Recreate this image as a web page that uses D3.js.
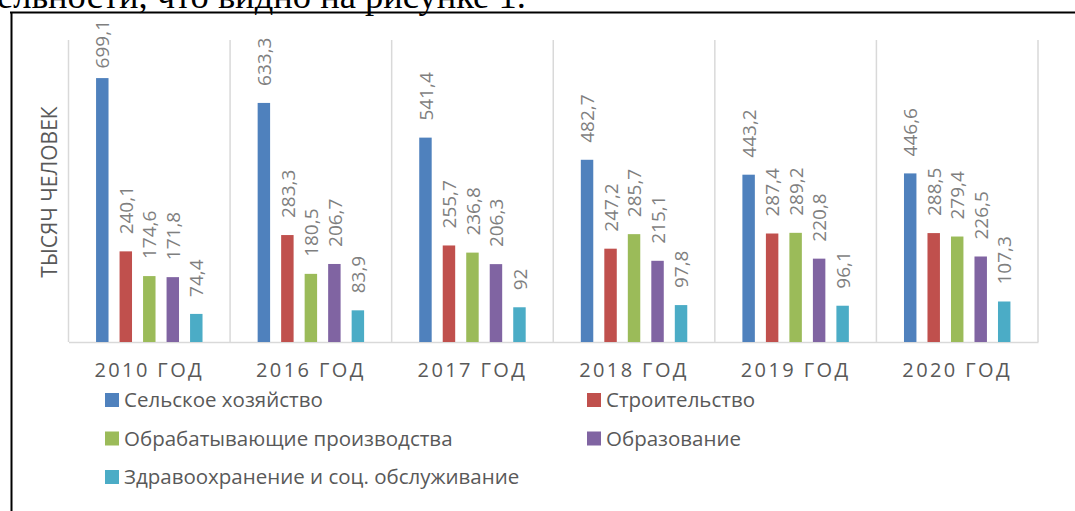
<!DOCTYPE html>
<html>
<head>
<meta charset="utf-8">
<script src="https://cdn.jsdelivr.net/npm/d3@7"></script>
<style>
  html, body { margin: 0; padding: 0; background: #fff; }
  svg { display: block; }
</style>
</head>
<body>
<svg id="chart" width="1075" height="511"></svg>
<script>
const categories = ["2010 ГОД", "2016 ГОД", "2017 ГОД", "2018 ГОД", "2019 ГОД", "2020 ГОД"];
const seriesNames = ["Сельское хозяйство", "Строительство", "Обрабатывающие производства", "Образование", "Здравоохранение и соц. обслуживание"];
const seriesColors = ["#4f81bd", "#c0504d", "#9bbb59", "#8064a2", "#4bacc6"];
const agriculture   = [699.1, 633.3, 541.4, 482.7, 443.2, 446.6];
const construction  = [240.1, 283.3, 255.7, 247.2, 287.4, 288.5];
const manufacturing = [174.6, 180.5, 236.8, 285.7, 289.2, 279.4];
const education     = [171.8, 206.7, 206.3, 215.1, 220.8, 226.5];
const health        = [74.4, 83.9, 92, 97.8, 96.1, 107.3];
const valueLabels = [
  ["699,1", "633,3", "541,4", "482,7", "443,2", "446,6"],
  ["240,1", "283,3", "255,7", "247,2", "287,4", "288,5"],
  ["174,6", "180,5", "236,8", "285,7", "289,2", "279,4"],
  ["171,8", "206,7", "206,3", "215,1", "220,8", "226,5"],
  ["74,4", "83,9", "92", "97,8", "96,1", "107,3"]
];
const axisTitle = "ТЫСЯЧ ЧЕЛОВЕК";
const yMax = 800;
const topText = "ельности, что видно на рисунке 1.";

const seriesValues = [agriculture, construction, manufacturing, education, health];
const svg = d3.select("#chart");
const SANS = "'Open Sans', 'Noto Sans', sans-serif";

// text above the frame (clipped page text)
svg.append("text")
  .attr("x", -3).attr("y", 7.5)
  .attr("font-family", "'Liberation Serif', 'Times New Roman', serif")
  .attr("font-size", 36.5)
  .attr("fill", "#000")
  .text(topText);

// frame
svg.append("line").attr("x1", 10).attr("x2", 1075).attr("y1", 12.5).attr("y2", 12.5)
  .attr("stroke", "#000").attr("stroke-width", 2);
svg.append("line").attr("x1", 11.5).attr("x2", 11.5).attr("y1", 12).attr("y2", 511)
  .attr("stroke", "#000").attr("stroke-width", 2);

const plot = { left: 68.5, right: 1038, top: 40, bottom: 342 };

const x0 = d3.scaleBand().domain(categories).range([plot.left, plot.right]).padding(0);
const groupW = 117.5;
const x1 = d3.scaleBand().domain(d3.range(seriesNames.length))
  .range([-groupW / 2, groupW / 2]).paddingInner(0.47).paddingOuter(0.235);
const y = d3.scaleLinear().domain([0, yMax]).range([plot.bottom, plot.top]);

// vertical category dividers
const dividers = categories.map(c => x0(c)).concat([plot.right]);
svg.append("g").selectAll("line").data(dividers).join("line")
  .attr("x1", d => d).attr("x2", d => d)
  .attr("y1", plot.top).attr("y2", plot.bottom)
  .attr("stroke", "#d9d9d9").attr("stroke-width", 1.5);

// baseline axis
const xAxis = d3.axisBottom(x0).tickSize(0).tickPadding(0);
const gx = svg.append("g").attr("transform", `translate(0,${plot.bottom})`).call(xAxis);
gx.select(".domain").attr("stroke", "#d9d9d9").attr("stroke-width", 1.5);
gx.selectAll(".tick text")
  .attr("y", 35).attr("dy", 0)
  .attr("font-family", SANS).attr("font-size", 20)
  .attr("letter-spacing", "2.4px")
  .attr("fill", "#595959");

// bars
const groups = svg.append("g").selectAll("g").data(categories).join("g")
  .attr("transform", c => `translate(${x0(c) + x0.bandwidth() / 2},0)`);

groups.selectAll("rect").data((c, ci) => seriesValues.map((vals, si) => ({ si, ci, v: vals[ci] })))
  .join("rect")
  .attr("x", d => x1(d.si))
  .attr("width", x1.bandwidth())
  .attr("y", d => y(d.v))
  .attr("height", d => plot.bottom - y(d.v))
  .attr("fill", d => seriesColors[d.si]);

// value labels
const labelGap = 17;
const labelTopLimit = 20;
groups.selectAll("text.val").data((c, ci) => seriesValues.map((vals, si) => ({ si, ci, v: vals[ci] })))
  .join("text")
  .attr("class", "val")
  .attr("font-family", SANS).attr("font-size", 19)
  .attr("fill", "#7f7f7f")
  .attr("dy", "0.35em")
  .text(d => valueLabels[d.si][d.ci])
  .each(function (d) {
    const len = this.getComputedTextLength();
    let start = y(d.v) - labelGap;
    if (start - len < labelTopLimit) start = labelTopLimit + len;
    const cx = x1(d.si) + x1.bandwidth() / 2 + 0.5;
    d3.select(this).attr("transform", `translate(${cx},${start}) rotate(-90)`);
  });

// axis title
svg.append("text")
  .attr("transform", "translate(50,192) rotate(-90)")
  .attr("text-anchor", "middle").attr("dy", "0.35em")
  .attr("font-family", SANS).attr("font-size", 21)
  .attr("fill", "#595959")
  .text(axisTitle);

// legend
const legendPos = [[105, 400], [587, 400], [105, 438.5], [587, 438.5], [105, 477]];
const leg = svg.append("g").selectAll("g").data(seriesNames).join("g")
  .attr("transform", (d, i) => `translate(${legendPos[i][0]},${legendPos[i][1]})`);
leg.append("rect").attr("x", 0).attr("y", -7).attr("width", 14).attr("height", 14)
  .attr("fill", (d, i) => seriesColors[i]);
leg.append("text").attr("x", 19).attr("y", 0).attr("dy", "0.35em")
  .attr("font-family", SANS).attr("font-size", 20.5)
  .attr("fill", "#595959")
  .text(d => d);
</script>
</body>
</html>
